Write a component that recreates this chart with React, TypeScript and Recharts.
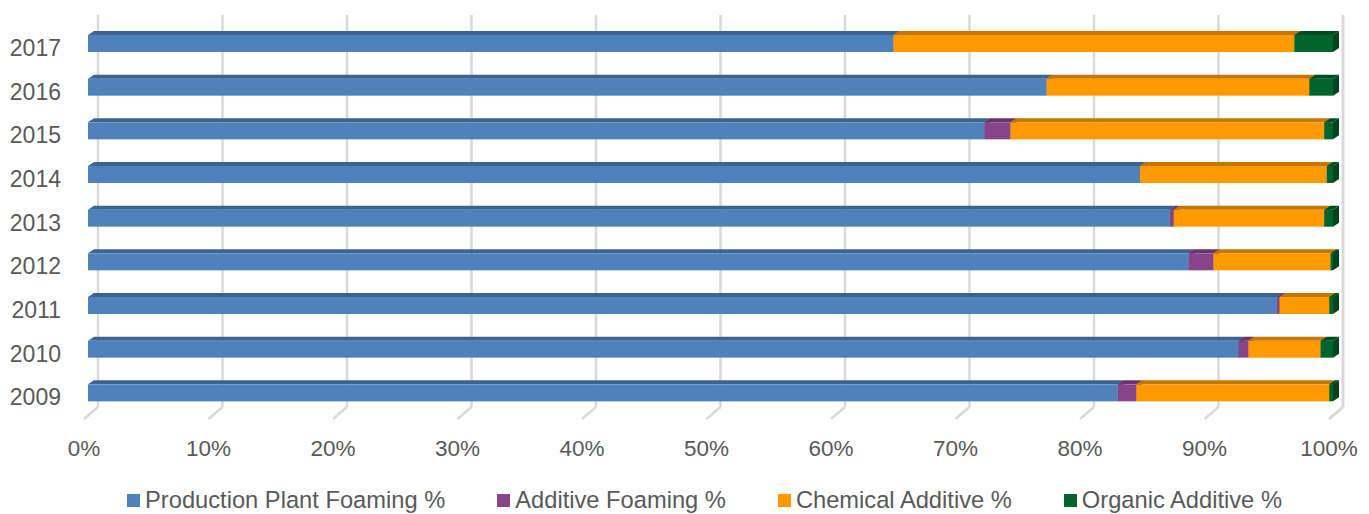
import React from 'react';
import { BarChart, Bar, XAxis, YAxis, CartesianGrid } from 'recharts';

const years = ['2009', '2010', '2011', '2012', '2013', '2014', '2015', '2016', '2017'];
const productionPlantFoaming = [82.7, 92.4, 95.5, 88.4, 86.9, 84.5, 72.0, 77.0, 64.7];
const additiveFoaming = [1.5, 0.8, 0.2, 2.0, 0.3, 0, 2.1, 0, 0];
const chemicalAdditive = [15.5, 5.8, 4.0, 9.4, 12.1, 15.0, 25.2, 21.1, 32.2];
const organicAdditive = [0.3, 1.0, 0.3, 0.2, 0.7, 0.5, 0.7, 1.9, 3.1];
const percentTicks = [0, 10, 20, 30, 40, 50, 60, 70, 80, 90, 100];

const data = years.map((year, i) => ({
  year,
  production: productionPlantFoaming[i],
  additive: additiveFoaming[i],
  chemical: chemicalAdditive[i],
  organic: organicAdditive[i],
}));

const series = [
  { key: 'production', name: 'Production Plant Foaming %', front: '#4F81BD', top: '#3D6393', side: '#34577F' },
  { key: 'additive', name: 'Additive Foaming %', front: '#88448A', top: '#6A346B', side: '#5C2C5D' },
  { key: 'chemical', name: 'Chemical Additive %', front: '#FF9900', top: '#C47600', side: '#B06A00' },
  { key: 'organic', name: 'Organic Additive %', front: '#00642D', top: '#004C22', side: '#00441E' },
];

const FONT = '"Liberation Sans", Arial, sans-serif';
const TEXT = '#595959';
const DEPTH_X = 6;
const DEPTH_Y = 4;
const WALL = 10;

// flat front face plus a slanted top and right side for the pseudo-3D look
const makeShape = (front: string, top: string, side: string) => (props: any) => {
  const { x, y, width, height } = props;
  if (!width || width <= 0) return <g />;
  const r = x + width;
  return (
    <g>
      <polygon
        points={`${r},${y} ${r + DEPTH_X},${y - DEPTH_Y} ${r + DEPTH_X},${y + height - DEPTH_Y} ${r},${y + height}`}
        fill={side}
      />
      <polygon
        points={`${x},${y} ${x + DEPTH_X},${y - DEPTH_Y} ${r + DEPTH_X},${y - DEPTH_Y} ${r},${y}`}
        fill={top}
      />
      <rect x={x} y={y} width={width} height={height} fill={front} />
    </g>
  );
};

// gridlines sit on the back wall with a short slanted stub on the floor
const GridLine = (props: any) => {
  const { x1, y1, y2 } = props;
  const gx = x1 + WALL;
  return (
    <g>
      <line x1={gx} y1={y1 - 7} x2={gx} y2={y2 - 8} stroke="#D9D9D9" strokeWidth={2.5} />
      <line x1={gx} y1={y2 - 8} x2={gx - 14} y2={y2 + 4} stroke="#D9D9D9" strokeWidth={2.5} />
    </g>
  );
};

const XTick = (props: any) => {
  const { x, y, payload } = props;
  return (
    <text x={x - 4} y={y + 33} textAnchor="middle" fill={TEXT} fontSize={22.5} fontFamily={FONT}>
      {payload.value}%
    </text>
  );
};

const YTick = (props: any) => {
  const { x, y, payload } = props;
  return (
    <text x={x - 19} y={y + 4} dy="0.36em" textAnchor="end" fill={TEXT} fontSize={23} fontFamily={FONT}>
      {payload.value}
    </text>
  );
};

const ChartLegend = () => (
  <div
    style={{
      position: 'absolute',
      left: 0,
      top: 487,
      width: 1369,
      display: 'flex',
      justifyContent: 'center',
      alignItems: 'center',
      gap: 52,
      paddingLeft: 40,
      boxSizing: 'border-box',
      fontFamily: FONT,
      fontSize: 23.7,
      lineHeight: '27px',
      color: TEXT,
      whiteSpace: 'nowrap',
    }}
  >
    {series.map((s) => (
      <div key={s.key} style={{ display: 'flex', alignItems: 'center' }}>
        <span style={{ width: 13, height: 13, background: s.front, marginRight: 5, display: 'inline-block' }} />
        <span>{s.name}</span>
      </div>
    ))}
  </div>
);

export default function App() {
  return (
    <div style={{ position: 'absolute', left: 0, top: 0, width: 1369, height: 514, overflow: 'hidden', background: '#fff' }}>
      <BarChart
        width={1369}
        height={514}
        data={data}
        layout="vertical"
        margin={{ top: 22, right: 36, bottom: 69, left: 0 }}
        barSize={17}
      >
        <CartesianGrid horizontal={false} vertical={(p: any) => <GridLine key={p.key ?? p.index} {...p} />} />
        <XAxis
          type="number"
          domain={[0, 100]}
          ticks={percentTicks}
          interval={0}
          height={30}
          axisLine={false}
          tickLine={false}
          tick={XTick}
        />
        <YAxis
          type="category"
          dataKey="year"
          reversed
          width={88}
          axisLine={false}
          tickLine={false}
          tick={YTick}
        />
        {series.map((s) => (
          <Bar
            key={s.key}
            dataKey={s.key}
            name={s.name}
            stackId="share"
            fill={s.front}
            shape={makeShape(s.front, s.top, s.side)}
            isAnimationActive={false}
          />
        ))}
      </BarChart>
      <ChartLegend />
    </div>
  );
}
